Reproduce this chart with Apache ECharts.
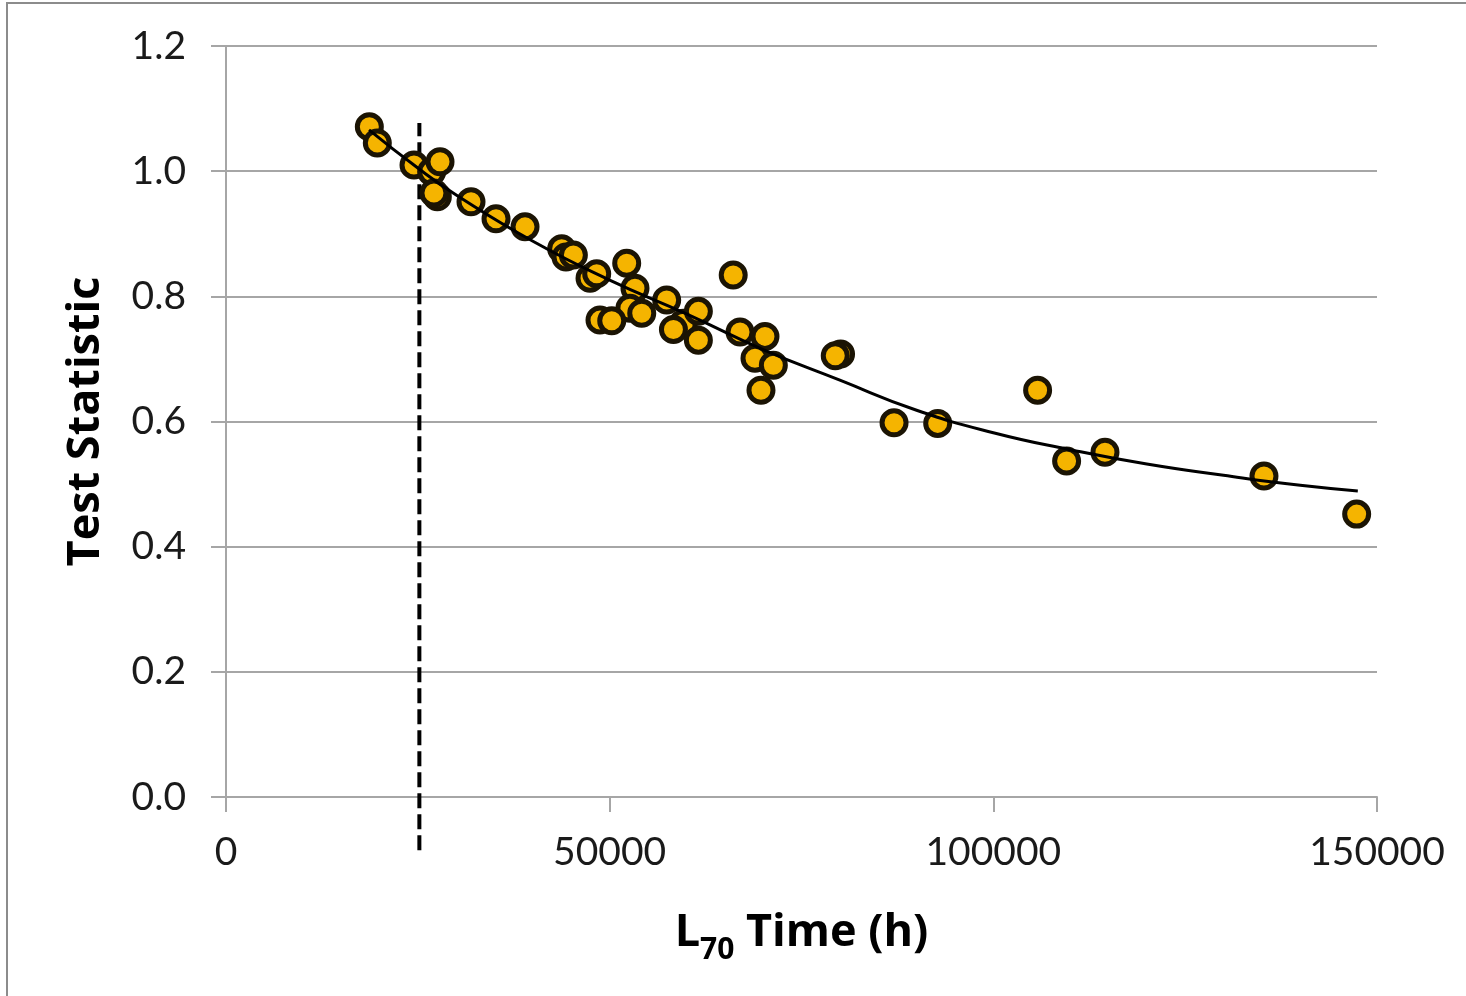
<!DOCTYPE html>
<html>
<head>
<meta charset="utf-8">
<title>Test Statistic vs L70 Time</title>
<script src="https://cdn.jsdelivr.net/npm/echarts@6/dist/echarts.min.js"></script>
<style>
  html, body { margin: 0; padding: 0; background: #fff; }
  #chart { width: 1466px; height: 996px; }
</style>
</head>
<body>
<div id="chart"></div>
<script>
// L70 time (h) and test statistic of each unit
const l70Hours = [
  18680, 19720, 24500, 26800, 27890, 27540, 27100, 31930, 35190, 38970,
  43750, 44310, 45270, 47440, 48310, 52220, 53300, 52640, 54180, 57430,
  48740, 50270, 59610, 58310, 61560, 61560, 66100, 66990, 70240, 68940,
  71330, 69720, 80090, 79400, 87060, 92750, 105770, 109550, 114550, 135270,
  147350
];
const testStat = [
  1.071, 1.045, 1.010, 0.999, 1.015, 0.959, 0.965, 0.951, 0.924, 0.911,
  0.876, 0.863, 0.866, 0.829, 0.836, 0.853, 0.813, 0.781, 0.773, 0.794,
  0.762, 0.761, 0.757, 0.747, 0.776, 0.730, 0.834, 0.743, 0.736, 0.701,
  0.690, 0.650, 0.708, 0.705, 0.598, 0.597, 0.650, 0.537, 0.551, 0.513,
  0.452
];

// fitted trend curve
const trendX = [18640, 25000, 30000, 40000, 50000, 60000, 70000, 80000, 90000, 100000, 110000, 120000, 130000, 140000, 147500];
const trendY = [1.066, 1.005, 0.962, 0.888, 0.826, 0.772, 0.715, 0.666, 0.618, 0.582, 0.555, 0.532, 0.514, 0.498, 0.489];

// vertical dashed reference at the required lifetime
const refX = [25200, 25200];
const refY = [-0.085, 1.077];

const yTicks = ['0.0', '0.2', '0.4', '0.6', '0.8', '1.0', '1.2'];
const xTicks = ['0', '50000', '100000', '150000'];

const FONT = 'Lato, "Open Sans", "Liberation Sans", sans-serif';
const TITLE_FONT = '"Open Sans", Lato, "Liberation Sans", sans-serif';
const GRID_COLOR = '#a6a6a6';

const points = l70Hours.map((x, i) => [x, testStat[i]]);
const trend = trendX.map((x, i) => [x, trendY[i]]);
const ref = refX.map((x, i) => [x, refY[i]]);

const chart = echarts.init(document.getElementById('chart'), null, { renderer: 'canvas' });

chart.setOption({
  backgroundColor: '#ffffff',
  animation: false,
  grid: { left: 226, right: 89, top: 46, bottom: 199, containLabel: false },
  graphic: [{
    type: 'rect',
    shape: { x: 7, y: 3, width: 1480, height: 1010 },
    style: { fill: 'none', stroke: '#8c8c8c', lineWidth: 2 },
    z: -1
  }],
  xAxis: {
    type: 'value',
    min: 0, max: 150000, interval: 50000,
    name: '{b|L}{s|70}{b| Time (h)}',
    nameLocation: 'middle',
    nameGap: 104,
    nameTextStyle: {
      rich: {
        b: { fontFamily: TITLE_FONT, fontSize: 45, fontWeight: 'bold', color: '#000', lineHeight: 64, verticalAlign: 'middle' },
        s: { fontFamily: TITLE_FONT, fontSize: 30, fontWeight: 'bold', color: '#000', lineHeight: 64, verticalAlign: 'bottom' }
      }
    },
    axisLine: { show: true, onZero: false, lineStyle: { color: GRID_COLOR, width: 2 } },
    axisTick: { show: true, length: 15, inside: false, lineStyle: { color: GRID_COLOR, width: 2 } },
    axisLabel: {
      fontFamily: FONT, fontSize: 39, color: '#1a1a1a', margin: 36,
      formatter: v => xTicks[Math.round(v / 50000)]
    },
    splitLine: { show: false }
  },
  yAxis: {
    type: 'value',
    min: 0, max: 1.2, interval: 0.2,
    name: 'Test Statistic',
    nameLocation: 'middle',
    nameGap: 117,
    nameRotate: 90,
    nameTextStyle: { fontFamily: TITLE_FONT, fontSize: 45, fontWeight: 'bold', color: '#000' },
    axisLine: { show: true, lineStyle: { color: GRID_COLOR, width: 2 } },
    axisTick: { show: true, length: 15, lineStyle: { color: GRID_COLOR, width: 2 } },
    axisLabel: {
      fontFamily: FONT, fontSize: 39, color: '#1a1a1a', margin: 40,
      formatter: v => yTicks[Math.round(v / 0.2)]
    },
    splitLine: { show: true, lineStyle: { color: GRID_COLOR, width: 2 } }
  },
  series: [
    {
      name: 'reference',
      type: 'line',
      data: ref,
      clip: false,
      symbol: 'none',
      lineStyle: { color: '#000', width: 4, type: [15, 6] },
      z: 3
    },
    {
      name: 'units',
      type: 'scatter',
      data: points,
      symbol: 'circle',
      symbolSize: 24,
      itemStyle: { color: '#f5b400', borderColor: '#1b1404', borderWidth: 5, opacity: 1 },
      z: 4
    },
    {
      name: 'trend',
      type: 'line',
      data: trend,
      smooth: 0.5,
      symbol: 'none',
      lineStyle: { color: '#000', width: 3 },
      z: 5
    }
  ]
});
</script>
</body>
</html>
